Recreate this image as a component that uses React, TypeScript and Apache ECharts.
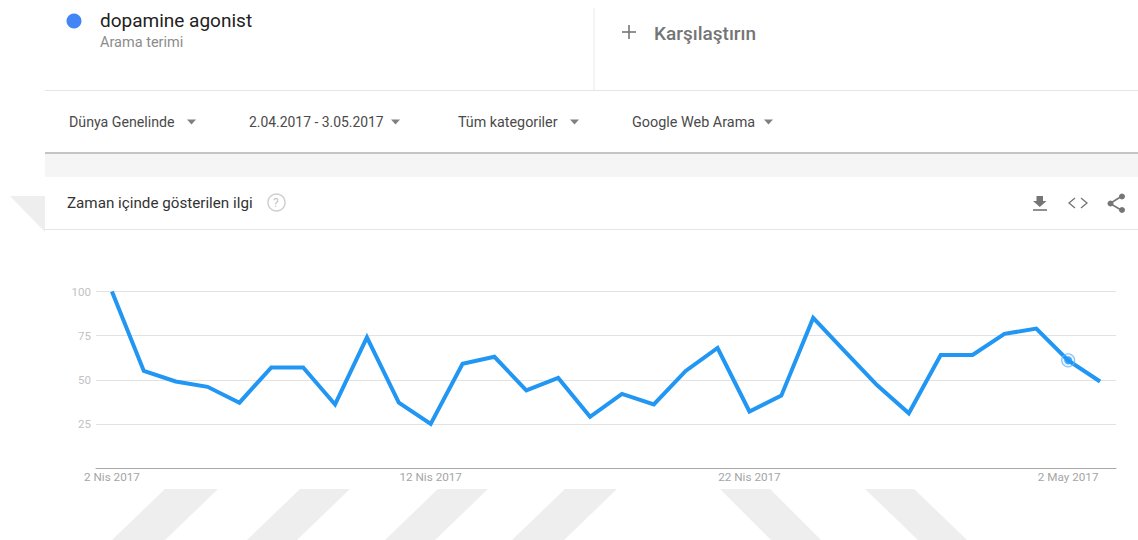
import React, { useEffect, useRef } from "react";
import * as echarts from "echarts";

const days = ["2 Nis 2017","3 Nis 2017","4 Nis 2017","5 Nis 2017","6 Nis 2017","7 Nis 2017","8 Nis 2017","9 Nis 2017","10 Nis 2017","11 Nis 2017","12 Nis 2017","13 Nis 2017","14 Nis 2017","15 Nis 2017","16 Nis 2017","17 Nis 2017","18 Nis 2017","19 Nis 2017","20 Nis 2017","21 Nis 2017","22 Nis 2017","23 Nis 2017","24 Nis 2017","25 Nis 2017","26 Nis 2017","27 Nis 2017","28 Nis 2017","29 Nis 2017","30 Nis 2017","1 May 2017","2 May 2017","3 May 2017"];
const interest = [100,55,49,46,37,57,57,36,74,37,25,59,63,44,51,29,42,36,55,68,32,41,85,66,47,31,64,64,76,79,61,49];
const hoverIndex = 30;
const labelledDays = [0, 10, 20, 30];
const yTicks = [25, 50, 75, 100];

const font = "Roboto";
const grey = "#757575";

function tri(x: number, y: number) {
  return { type: "polygon", shape: { points: [[x, y], [x + 9, y], [x + 4.5, y + 5]] }, style: { fill: "#808080" } };
}
function label(x: number, y: number, text: string, size: number, fill: string, weight: any = "normal") {
  return { type: "text", x, y, style: { text, fill, font: `${weight} ${size}px ${font}`, textVerticalAlign: "middle" } };
}
function hline(x1: number, x2: number, y: number, stroke: string, lineWidth = 1) {
  return { type: "line", shape: { x1, y1: y, x2, y2: y }, style: { stroke, lineWidth } };
}
function stripe(x: number, w: number, dx: number) {
  return {
    type: "polygon",
    shape: { points: [[x, 489], [x + w, 489], [x + w + dx, 540], [x + dx, 540]] },
    style: { fill: "#eeeeee" },
  };
}

export default function App() {
  const ref = useRef<HTMLDivElement>(null);
  useEffect(() => {
    const chart = echarts.init(ref.current!, null, { renderer: "svg" });
    chart.setOption({
      animation: false,
      backgroundColor: "#ffffff",
      grid: { left: 96, right: 22, top: 291.5, height: 176.5, containLabel: false },
      xAxis: {
        type: "category",
        data: days,
        boundaryGap: true,
        axisTick: { show: false },
        axisLine: { lineStyle: { color: "#a8a8a8", width: 1 } },
        axisLabel: {
          interval: (i: number) => labelledDays.includes(i),
          color: "#a5a5a5",
          fontFamily: font,
          fontSize: 11.7,
          margin: 3,
          hideOverlap: false,
        },
      },
      yAxis: {
        type: "value",
        min: 0,
        max: 100,
        interval: 25,
        axisLine: { show: false },
        axisTick: { show: false },
        splitLine: { lineStyle: { color: "#e2e2e2", width: 1 } },
        axisLabel: {
          color: "#c2c2c2",
          fontFamily: font,
          fontSize: 11.5,
          margin: 5,
          formatter: (v: number) => (yTicks.includes(v) ? String(v) : ""),
        },
      },
      series: [
        {
          type: "line",
          data: interest,
          showSymbol: false,
          symbol: "none",
          lineStyle: { color: "#2196f3", width: 4, join: "miter" },
          z: 3,
        },
        {
          type: "scatter",
          data: interest.map((v, i) => (i === hoverIndex ? v : null)),
          symbol: "circle",
          symbolSize: 8,
          itemStyle: { color: "#2196f3" },
          z: 4,
        },
        {
          type: "scatter",
          data: interest.map((v, i) => (i === hoverIndex ? v : null)),
          symbol: "circle",
          symbolSize: 13,
          itemStyle: { color: "rgba(33,150,243,0.12)", borderColor: "#64b5f6", borderWidth: 1.2 },
          z: 4,
        },
      ],
      graphic: {
        elements: [
          { type: "rect", shape: { x: 45, y: 154, width: 1093, height: 23 }, style: { fill: "#f5f5f5" } },
          hline(45, 1138, 153, "#c4c4c4", 2),
          hline(45, 1138, 90.5, "#e4e4e4"),
          hline(45, 1138, 229.5, "#e4e4e4"),
          { type: "line", shape: { x1: 594, y1: 8, x2: 594, y2: 90 }, style: { stroke: "#e8e8e8", lineWidth: 1 } },
          { type: "polygon", shape: { points: [[10, 196], [45, 196], [45, 232]] }, style: { fill: "#eeeeee" } },
          stripe(165, 53, -53),
          stripe(300, 50, -53),
          stripe(438, 50, -53),
          stripe(565, 52, -53),
          stripe(720, 50, 51),
          stripe(865, 49, 53),

          { type: "circle", shape: { cx: 74, cy: 21, r: 7.5 }, style: { fill: "#4285f4" } },
          label(100, 20, "dopamine agonist", 19, "#212121"),
          label(100, 42, "Arama terimi", 14.5, "#8c8c8c"),
          hline(622, 636, 32, grey, 1.6),
          { type: "line", shape: { x1: 629, y1: 25, x2: 629, y2: 39 }, style: { stroke: grey, lineWidth: 1.6 } },
          label(654, 33, "Karşılaştırın", 19, "#757575", 500),

          label(69, 122, "Dünya Genelinde", 14.2, "#4a4a4a"),
          tri(187, 119.5),
          label(249, 122, "2.04.2017 - 3.05.2017", 13.9, "#4a4a4a"),
          tri(391, 119.5),
          label(458, 122, "Tüm kategoriler", 14.3, "#4a4a4a"),
          tri(570, 119.5),
          label(632, 122, "Google Web Arama", 14.4, "#4a4a4a"),
          tri(764, 119.5),

          label(67, 203, "Zaman içinde gösterilen ilgi", 15.2, "#333333"),
          { type: "circle", shape: { cx: 276.5, cy: 202.5, r: 8.5 }, style: { fill: "none", stroke: "#cfcfcf", lineWidth: 1.5 } },
          label(273, 203, "?", 12, "#c4c4c4"),

          { type: "polygon", shape: { points: [[1036.5, 196], [1043, 196], [1043, 201], [1046.5, 201], [1039.8, 207], [1033, 201], [1036.5, 201]] }, style: { fill: grey } },
          hline(1033, 1047, 210, grey, 1.6),
          { type: "polyline", shape: { points: [[1075, 198], [1069, 203], [1075, 208]] }, style: { fill: "none", stroke: grey, lineWidth: 1.3 } },
          { type: "polyline", shape: { points: [[1081, 198], [1087, 203], [1081, 208]] }, style: { fill: "none", stroke: grey, lineWidth: 1.3 } },
          { type: "polyline", shape: { points: [[1122, 196], [1110, 203.5], [1122, 210.5]] }, style: { fill: "none", stroke: grey, lineWidth: 1.6 } },
          { type: "circle", shape: { cx: 1122, cy: 196.5, r: 3 }, style: { fill: grey } },
          { type: "circle", shape: { cx: 1110.5, cy: 203.5, r: 3 }, style: { fill: grey } },
          { type: "circle", shape: { cx: 1122, cy: 210, r: 3 }, style: { fill: grey } },
        ],
      },
    });
    return () => chart.dispose();
  }, []);
  return <div ref={ref} style={{ position: "absolute", left: 0, top: 0, width: 1138, height: 540 }} />;
}
